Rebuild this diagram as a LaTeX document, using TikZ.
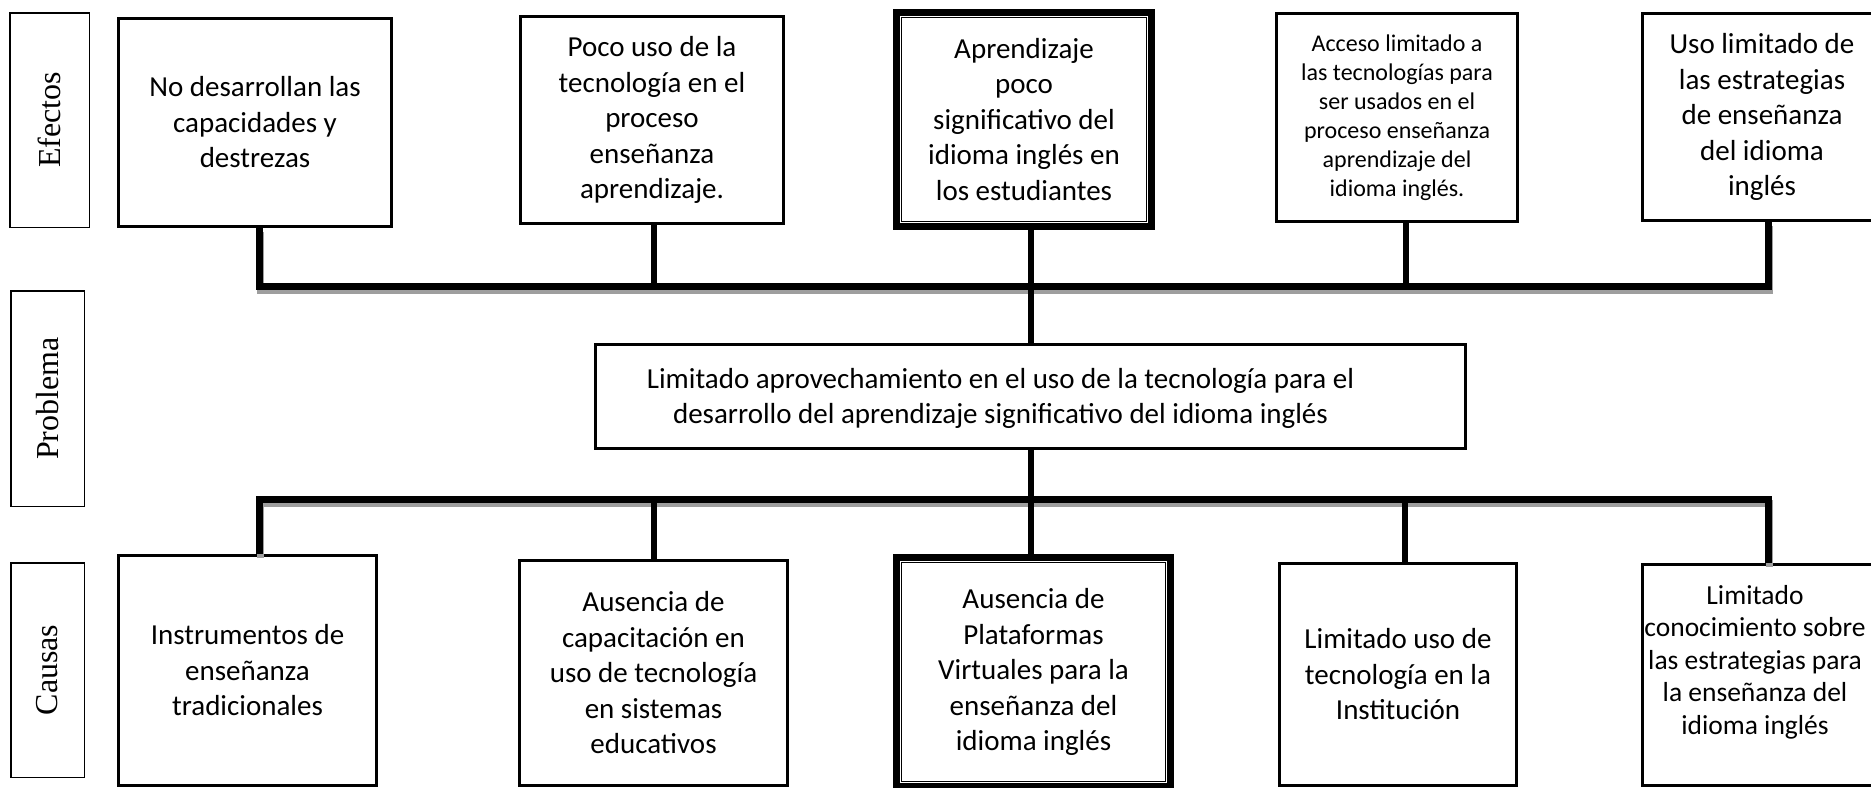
\documentclass[tikz,border=0pt]{standalone}
\usepackage{fontspec}
\setmainfont{Carlito}
\newfontfamily\labelfont{Liberation Serif}
\begin{document}
\begin{tikzpicture}[x=1pt,y=-1pt,
  box/.style={draw=black, line width=3pt, align=center, inner sep=0pt, font=\fontsize{29}{35.5}\selectfont},
  dbox/.style={draw=black, line width=7pt, align=center, inner sep=0pt, font=\fontsize{29}{35.5}\selectfont},
  innerline/.style={draw=black, line width=1.8pt},
  txt/.style={align=center, inner sep=0pt},
  labbox/.style={draw=black, line width=1.5pt, inner sep=0pt, font=\labelfont\fontsize{32}{38}\selectfont},
  conn/.style={draw=black, line width=6pt, line cap=butt},
  bar/.style={draw=black, line width=7pt, line join=miter, line cap=butt},
  barshadow/.style={draw=black!38, line width=7pt, line join=miter, line cap=butt}
]
\useasboundingbox (0,0) rectangle (1871,787);

% side labels
\node[labbox, minimum width=79.5pt, minimum height=214.5pt] (lef) at (49.5,120) {\rotatebox{90}{Efectos}};
\node[labbox, minimum width=73.5pt, minimum height=215.5pt] (lpr) at (47.5,398.5) {\rotatebox{90}{Problema}};
\node[labbox, minimum width=73.5pt, minimum height=214.5pt] (lca) at (47.5,670) {\rotatebox{90}{Causas}};

% effects
\node[box, minimum width=273pt, minimum height=208pt] (e1) at (255,122.5) {No desarrollan las\\capacidades y\\destrezas};
\node[box, minimum width=263pt, minimum height=207pt] (e2) at (652,120) {Poco uso de la\\tecnología en el\\proceso\\enseñanza\\aprendizaje.};
\node[dbox, minimum width=255pt, minimum height=214pt] (e3) at (1024,119.5) {Aprendizaje\\poco\\significativo del\\idioma inglés en\\los estudiantes};
\draw[innerline] ([shift={(8.5,8.5)}]e3.north west) rectangle ([shift={(-8.5,-8.5)}]e3.south east);
\node[box, minimum width=241pt, minimum height=208pt, font=\fontsize{24}{29}\selectfont] (e4) at (1397,117.5) {Acceso limitado a\\las tecnologías para\\ser usados en el\\proceso enseñanza\\aprendizaje del\\idioma inglés.};
\node[box, minimum width=239pt, minimum height=207pt] (e5) at (1762,117) {Uso limitado de\\las estrategias\\de enseñanza\\del idioma\\inglés};

% problem
\node[box, minimum width=870pt, minimum height=104pt] (prob) at (1030.5,396.5) {};
\node[txt, font=\fontsize{29}{35}\selectfont] (probt) at ([xshift=-30pt,yshift=-2pt]prob.center) {Limitado aprovechamiento en el uso de la tecnología para el\\desarrollo del aprendizaje significativo del idioma inglés};

% causes
\node[box, minimum width=258pt, minimum height=230pt] (c1) at (247.5,670.5) {Instrumentos de\\enseñanza\\tradicionales};
\node[box, minimum width=268pt, minimum height=225pt] (c2) at (653.5,673) {Ausencia de\\capacitación en\\uso de tecnología\\en sistemas\\educativos};
\node[dbox, minimum width=274pt, minimum height=229pt] (c3) at (1033.5,672) {Ausencia de\\Plataformas\\Virtuales para la\\enseñanza del\\idioma inglés};
\draw[innerline] ([shift={(8.5,8.5)}]c3.north west) rectangle ([shift={(-8.5,-8.5)}]c3.south east);
\node[box, minimum width=237pt, minimum height=222pt] (c4) at (1398,674.5) {Limitado uso de\\tecnología en la\\Institución};
\node[box, minimum width=241pt, minimum height=221pt] (c5) at (1763,675) {};
\node[txt, font=\fontsize{27.5}{32.5}\selectfont] (c5t) at ([xshift=-8pt,yshift=13pt]c5.center) {Limitado\\conocimiento sobre\\las estrategias para\\la enseñanza del\\idioma inglés};

% bar corner coordinates
\coordinate (tl) at (259,286.5);
\coordinate (tr) at (1768,286.5);
\coordinate (bl) at (259,499.5);
\coordinate (br) at (1768,499.5);
\coordinate (t1) at (e1.south -| tl);
\coordinate (t5) at (e5.south -| tr);
\coordinate (b1) at (c1.north -| bl);
\coordinate (b5) at (c5.north -| br);

% shadows
\draw[barshadow] ([shift={(1,4)}]t1) -- ([shift={(1,4)}]tl) -- ([shift={(1,4)}]tr) -- ([shift={(1,4)}]t5);
\draw[barshadow] ([shift={(1,4)}]b1) -- ([shift={(1,4)}]bl) -- ([shift={(1,4)}]br) -- ([shift={(1,4)}]b5);

% bars
\draw[bar] (t1) -- (tl) -- (tr) -- (t5);
\draw[bar] (b1) -- (bl) -- (br) -- (b5);

% connectors
\draw[conn] ([xshift=2pt]e2.south) -- ([xshift=2pt]e2.south |- tl);
\draw[conn] ([xshift=9pt]e4.south) -- ([xshift=9pt]e4.south |- tl);
\draw[conn] (prob.north |- e3.south) -- (prob.north);
\draw[conn] (prob.south) -- (prob.south |- c3.north);
\draw[conn] (c2.north) -- (c2.north |- bl);
\draw[conn] ([xshift=7pt]c4.north) -- ([xshift=7pt]c4.north |- bl);
\end{tikzpicture}
\end{document}
